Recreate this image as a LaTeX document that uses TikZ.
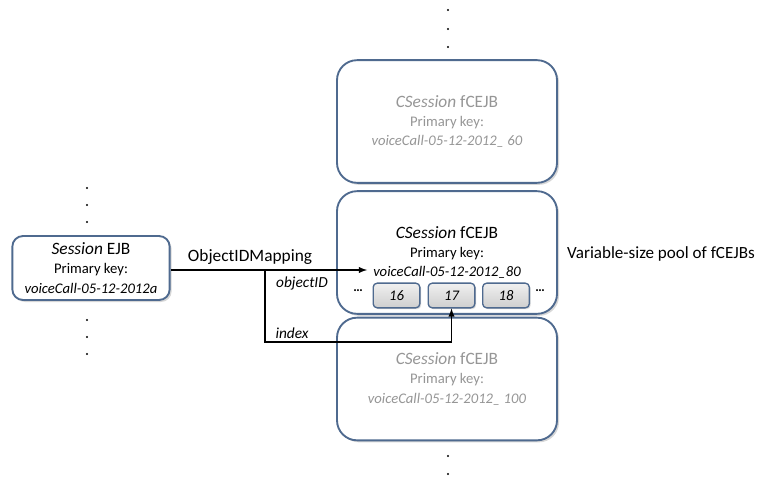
\documentclass[tikz,border=0pt]{standalone}
\usepackage{fontspec}
\setmainfont{Carlito}
\usetikzlibrary{shadows}

\definecolor{boxblue}{RGB}{79,106,143}
\definecolor{fadegray}{RGB}{150,150,150}

\tikzset{
  ejbbox/.style={draw=boxblue, line width=1.4pt, rounded corners=8pt, fill=white,
    align=center, font=\fontsize{11}{14.5}\selectfont,
    drop shadow={shadow xshift=1.5pt, shadow yshift=-1.5pt, opacity=0.35, fill=black!45}},
  poolbox/.style={ejbbox, rounded corners=15pt, minimum width=165pt, minimum height=92pt},
  faded/.style={text=fadegray},
  slotbox/.style={draw=boxblue, line width=1pt, rounded corners=3pt,
    top color=gray!12, bottom color=gray!38, minimum width=35pt, minimum height=18.5pt,
    font=\itshape\fontsize{11}{12}\selectfont,
    drop shadow={shadow xshift=1pt, shadow yshift=-1pt, opacity=0.3, fill=black!45}},
  link/.style={line width=1.1pt, ->},
}

\newcommand{\ttl}[2]{{\fontsize{13}{15}\selectfont\textit{#1} #2}}

\begin{document}
\begin{tikzpicture}[x=0.75pt,y=-0.75pt,>=latex]
  \useasboundingbox (0,0) rectangle (759,491);

  % the session bean
  \node[ejbbox, minimum width=118pt, minimum height=48pt] (session) at (91,268)
    {\ttl{Session}{EJB}\\Primary key:\\\textit{voiceCall-05-12-2012a}};

  % pool of fCEJBs
  \node[poolbox, faded] (pool60) at (447,121.5)
    {\ttl{CSession}{fCEJB}\\Primary key:\\\textit{voiceCall-05-12-2012\_ 60}};
  \node[poolbox] (pool80) at (447,252.5)
    {\ttl{CSession}{fCEJB}\\Primary key:\\\textit{voiceCall-05-12-2012\_80}};
  \node[poolbox, faded] (pool100) at (447,379)
    {\ttl{CSession}{fCEJB}\\Primary key:\\\textit{voiceCall-05-12-2012\_ 100}};

  % index slots
  \node[slotbox] (idx16) at (396.5,295.5) {16};
  \node[slotbox] (idx17) at (451.5,295.5) {17};
  \node[slotbox] (idx18) at (506,295.5) {18};
  \node (more1) at (358,291) {\textbf{\dots}};
  \node (more2) at (540,291) {\textbf{\dots}};

  \node[font=\fontsize{12.8}{14}\selectfont] (poolLabel) at (661,254) {Variable-size pool of fCEJBs};

  % mapping
  \coordinate (keyin) at (367,270);
  \coordinate (split) at (265,270);
  \coordinate (bend) at (265,342);
  \node[font=\fontsize{13}{14}\selectfont] (mapLabel) at (250,257) {ObjectIDMapping};
  \node[font=\itshape\fontsize{11.5}{13}\selectfont] (objLabel) at (302,283) {objectID};
  \node[font=\itshape\fontsize{11.5}{13}\selectfont] (idxLabel) at (292,333) {index};

  \draw[link] (session.east |- keyin) -- (keyin);
  \draw[link] (split) -- (bend) -| (idx17.south);

  % dots
  \foreach \y in {188,205,222,320,337,354}
    \fill (87,\y) circle (1.1);
  \foreach \y in {10,29,47,456,474}
    \fill (448,\y) circle (1.1);
\end{tikzpicture}
\end{document}
